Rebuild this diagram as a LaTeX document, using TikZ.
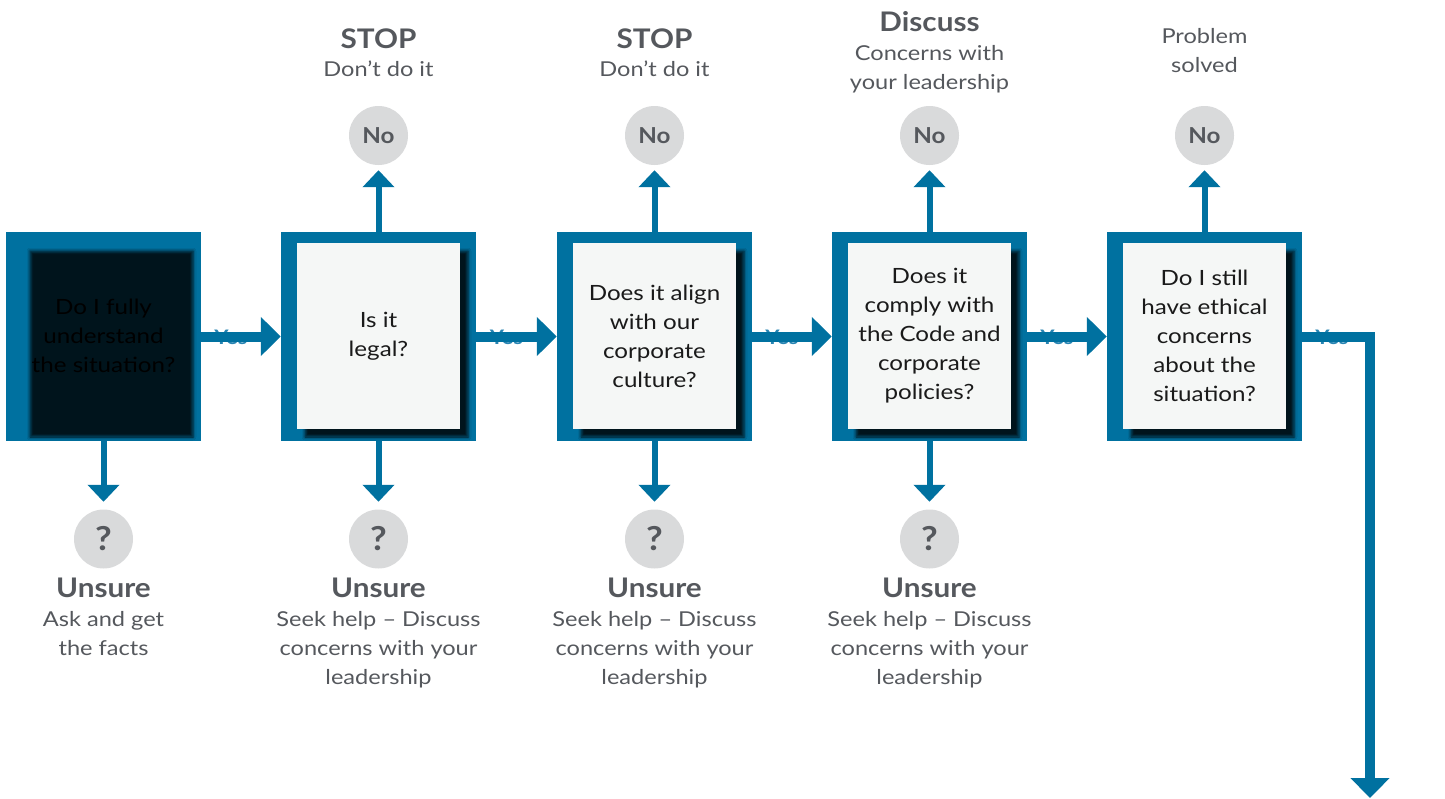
\documentclass[tikz,border=0pt]{standalone}
\usepackage{fontspec}
\setmainfont{Lato}[FakeStretch=1.15,BoldFeatures={FakeStretch=1.1}]
\usetikzlibrary{arrows.meta,shadows.blur,calc}
\definecolor{cblue}{RGB}{0,113,160}
\definecolor{cyes}{RGB}{40,132,178}
\definecolor{cbox}{RGB}{245,247,246}
\definecolor{cgray}{RGB}{85,88,93}
\definecolor{ccirc}{RGB}{217,218,219}
\definecolor{ctext}{RGB}{26,26,26}
\begin{document}
\begin{tikzpicture}[x=1pt,y=-1pt,
 outerbox/.style={rectangle,fill=cblue,minimum width=195pt,minimum height=209pt,inner sep=0pt},
 innerbox/.style={rectangle,fill=cbox,minimum width=163pt,minimum height=186pt,inner sep=0pt,align=center,text=ctext,font=\fontsize{21}{29}\selectfont,
   blur shadow={shadow xshift=8pt,shadow yshift=-8pt,shadow blur radius=3pt,shadow opacity=82}},
 circ/.style={circle,fill=ccirc,minimum size=59pt,inner sep=0pt,text=cgray,font=\bfseries\fontsize{22}{22}\selectfont},
 qcirc/.style={circ,font=\bfseries\fontsize{33}{33}\selectfont},
 head/.style={anchor=base,text=cgray,font=\bfseries\fontsize{27}{29}\selectfont,inner sep=0pt},
 desc/.style={anchor=base,text=cgray,font=\fontsize{20.5}{29}\selectfont,inner sep=0pt},
 yeslabel/.style={text=cyes,font=\bfseries\fontsize{20}{20}\selectfont,inner sep=0pt,yshift=-1pt},
 yesarrow/.style={draw=cblue,line width=10pt,-{Triangle[length=20pt,width=38pt]}},
 sidearrow/.style={draw=cblue,line width=6pt,-{Triangle[length=17pt,width=31pt]}}
]
\useasboundingbox (0,0) rectangle (1445,798);

% outer boxes
\node[outerbox] (o1) at (103.5,336.5) {};
\node[outerbox] (o2) at (378.5,336.5) {};
\node[outerbox] (o3) at (654.5,336.5) {};
\node[outerbox] (o4) at (929.5,336.5) {};
\node[outerbox] (o5) at (1204.5,336.5) {};

% inner boxes
\node[innerbox,fill=none,text=black] (i1) at (103.5,336) {Do I fully\\understand\\the situation?};
\node[innerbox] (i2) at (378.5,336) {Is it\\legal?};
\node[innerbox] (i3) at (654.5,336) {Does it align\\with our\\corporate\\culture?};
\node[innerbox] (i4) at (929.5,336) {Does it\\comply with\\the Code and\\corporate\\policies?};
\node[innerbox] (i5) at (1204.5,336) {Do I still\\have ethical\\concerns\\about the\\situation?};

% No circles
\node[circ] (n2) at (378.5,135.5) {No};
\node[circ] (n3) at (654.5,135.5) {No};
\node[circ] (n4) at (929.5,135.5) {No};
\node[circ] (n5) at (1204.5,135.5) {No};

% ? circles
\node[qcirc] (q1) at (103.5,539) {?};
\node[qcirc] (q2) at (378.5,539) {?};
\node[qcirc] (q3) at (654.5,539) {?};
\node[qcirc] (q4) at (929.5,539) {?};

% top texts
\node[head] (h2) at (378.5,48) {STOP};
\node[desc] (d2) at (378.5,76) {Don’t do it};
\node[head] (h3) at (654.5,48) {STOP};
\node[desc] (d3) at (654.5,76) {Don’t do it};
\node[head] (h4) at (929.5,31) {Discuss};
\node[desc] (d4a) at (929.5,60) {Concerns with};
\node[desc] (d4b) at (929.5,89) {your leadership};
\node[desc] (d5a) at (1204.5,43) {Problem};
\node[desc] (d5b) at (1204.5,72) {solved};

% bottom texts
\node[head] (u1) at (103.5,597) {Unsure};
\node[desc] (b1a) at (103.5,626) {Ask and get};
\node[desc] (b1b) at (103.5,655) {the facts};
\foreach \k/\x in {2/378.5,3/654.5,4/929.5}{
  \node[head] (u\k) at (\x,597) {Unsure};
  \node[desc] (b\k a) at (\x,626) {Seek help – Discuss};
  \node[desc] (b\k b) at (\x,655) {concerns with your};
  \node[desc] (b\k c) at (\x,684) {leadership};
}

% Yes labels (behind arrows)
\path (o1.east) -- (o2.west) node[yeslabel,pos=0.375] (y1) {Yes};
\path (o2.east) -- (o3.west) node[yeslabel,pos=0.375] (y2) {Yes};
\path (o3.east) -- (o4.west) node[yeslabel,pos=0.375] (y3) {Yes};
\path (o4.east) -- (o5.west) node[yeslabel,pos=0.375] (y4) {Yes};
\coordinate (fend) at (1370,798);
\path (o5.east) -- (o5.east -| fend) node[yeslabel,pos=0.44] (y5) {Yes};

% Yes arrows
\draw[yesarrow] (o1.east) -- (o2.west);
\draw[yesarrow] (o2.east) -- (o3.west);
\draw[yesarrow] (o3.east) -- (o4.west);
\draw[yesarrow] (o4.east) -- (o5.west);
\draw[yesarrow,line join=miter] (o5.east) -| (fend);

% up arrows
\foreach \k in {2,3,4,5}{
  \draw[sidearrow,shorten >=5pt] (o\k.north) -- (n\k.south);
}
% down arrows
\foreach \k in {1,2,3,4}{
  \draw[sidearrow,shorten >=7.5pt] (o\k.south) -- (q\k.north);
}
\end{tikzpicture}
\end{document}
